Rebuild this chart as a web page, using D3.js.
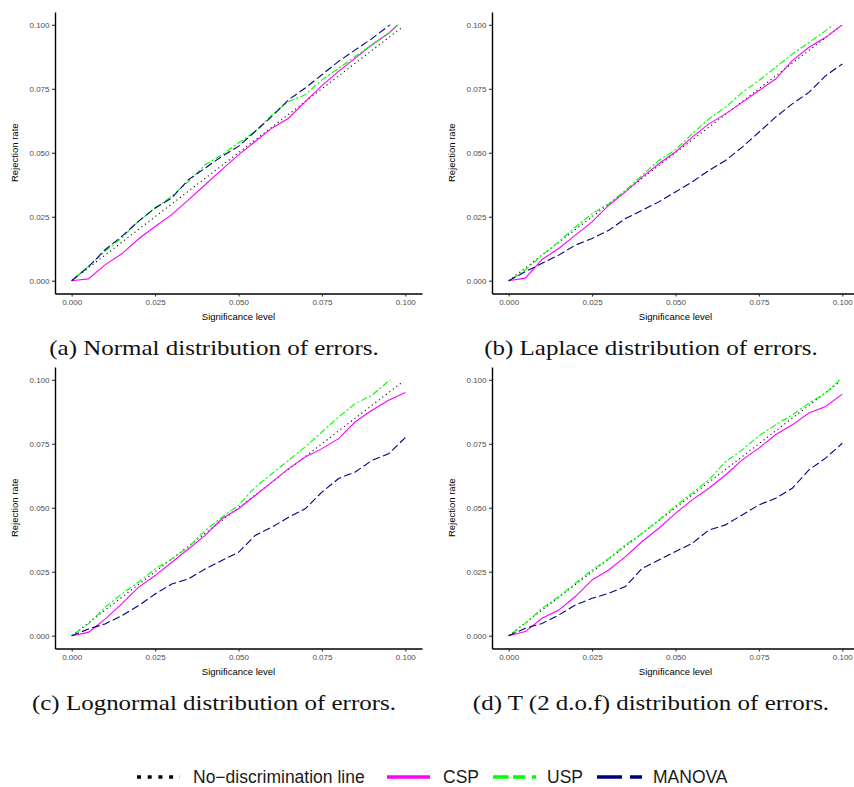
<!DOCTYPE html>
<html>
<head>
<meta charset="utf-8">
<script src="https://cdn.jsdelivr.net/npm/d3@7"></script>
<style>
  body { margin: 0; background: #fff; }
</style>
</head>
<body>
<svg id="viz"></svg>
<script>
var width = 854;
var height = 787;

// significance levels where the rejection rates were read
var sigLevels = [0, 0.005, 0.01, 0.015, 0.02, 0.025, 0.03, 0.035, 0.04, 0.045, 0.05,
                 0.055, 0.06, 0.065, 0.07, 0.075, 0.08, 0.085, 0.09, 0.095, 0.1];
var noDiscLevels = [0, 0.099];
var tickValues = [0, 0.025, 0.05, 0.075, 0.1];

// (a) normal errors
var normalCSP = [0, 0.0007, 0.0062, 0.0105, 0.0163, 0.0212, 0.0258, 0.0316, 0.0375, 0.0434, 0.0492,
                 0.0544, 0.0596, 0.0635, 0.0700, 0.0762, 0.0818, 0.0870, 0.0922, 0.0967, 0.1026];
var normalUSP = [0, 0.0056, 0.0115, 0.0167, 0.0232, 0.0284, 0.0330, 0.0388, 0.0453, 0.0492, 0.0538,
                 0.0583, 0.0648, 0.0700, 0.0727, 0.0785, 0.0830, 0.0876, 0.0922, 0.0967, 0.1027];
var normalMANOVA = [0, 0.0054, 0.0121, 0.0173, 0.0232, 0.0284, 0.0323, 0.0395, 0.0440, 0.0486, 0.0525,
                    0.0583, 0.0642, 0.0707, 0.0753, 0.0805, 0.0857, 0.0902, 0.0946, 0.0996, 0.1050];

// (b) laplace errors
var laplaceCSP = [0, 0.0010, 0.0083, 0.0126, 0.0178, 0.0230, 0.0295, 0.0347, 0.0405, 0.0457, 0.0503,
                  0.0561, 0.0613, 0.0652, 0.0697, 0.0743, 0.0788, 0.0860, 0.0912, 0.0951, 0.1000];
var laplaceUSP = [0, 0.0042, 0.0100, 0.0152, 0.0210, 0.0262, 0.0301, 0.0353, 0.0412, 0.0470, 0.0512,
                  0.0574, 0.0632, 0.0678, 0.0736, 0.0782, 0.0834, 0.0886, 0.0931, 0.0977, 0.1027];
var laplaceMANOVA = [0, 0.0035, 0.0068, 0.0100, 0.0139, 0.0165, 0.0197, 0.0243, 0.0275, 0.0308, 0.0347,
                     0.0386, 0.0431, 0.0470, 0.0522, 0.0580, 0.0639, 0.0691, 0.0736, 0.0801, 0.0847];

// (c) lognormal errors
var lognormalCSP = [0, 0.0013, 0.0065, 0.0124, 0.0189, 0.0235, 0.0287, 0.0339, 0.0392, 0.0457, 0.0496,
                    0.0548, 0.0600, 0.0653, 0.0698, 0.0731, 0.0770, 0.0836, 0.0881, 0.0920, 0.0950];
var lognormalUSP = [0, 0.0046, 0.0111, 0.0163, 0.0209, 0.0261, 0.0300, 0.0346, 0.0411, 0.0463, 0.0509,
                    0.0581, 0.0633, 0.0685, 0.0738, 0.0796, 0.0855, 0.0907, 0.0940, 0.0995, 0.1040];
var lognormalMANOVA = [0, 0.0026, 0.0046, 0.0078, 0.0117, 0.0163, 0.0202, 0.0222, 0.0261, 0.0294, 0.0326,
                       0.0392, 0.0424, 0.0463, 0.0496, 0.0561, 0.0614, 0.0640, 0.0685, 0.0711, 0.0774];

// (d) t (2 d.o.f) errors
var tdistCSP = [0, 0.0016, 0.0068, 0.0100, 0.0153, 0.0218, 0.0257, 0.0309, 0.0368, 0.0420, 0.0478,
                0.0531, 0.0576, 0.0628, 0.0687, 0.0733, 0.0785, 0.0824, 0.0870, 0.0896, 0.0944];
var tdistUSP = [0, 0.0048, 0.0107, 0.0153, 0.0205, 0.0257, 0.0302, 0.0355, 0.0400, 0.0452, 0.0507,
                0.0557, 0.0609, 0.0680, 0.0726, 0.0781, 0.0824, 0.0863, 0.0909, 0.0948, 0.1010];
var tdistMANOVA = [0, 0.0029, 0.0048, 0.0081, 0.0120, 0.0146, 0.0166, 0.0192, 0.0263, 0.0296, 0.0329,
                   0.0361, 0.0413, 0.0433, 0.0472, 0.0511, 0.0537, 0.0576, 0.0648, 0.0694, 0.0752];

var captions = ["(a) Normal distribution of errors.", "(b) Laplace distribution of errors.",
                "(c) Lognormal distribution of errors.", "(d) T (2 d.o.f) distribution of errors."];
var seriesNames = ["No\u2212discrimination line", "CSP", "USP", "MANOVA"];

var panelData = [
    [normalCSP, normalUSP, normalMANOVA],
    [laplaceCSP, laplaceUSP, laplaceMANOVA],
    [lognormalCSP, lognormalUSP, lognormalMANOVA],
    [tdistCSP, tdistUSP, tdistMANOVA]
];

// layout
var panelLeft = [55, 492, 55, 492];
var panelTop = [12, 12, 367, 367];
var panelW = 367, panelH = 281.5;
var sansFont = "'Liberation Sans', Arial, Helvetica, sans-serif";
var serifFont = "'Liberation Serif', 'Times New Roman', serif";
// the captions were set in a wider (Computer Modern) face
var captionStretch = 1.135;

// line styles (CSP, USP, MANOVA)
var colors = ["#FF00FF", "#00FF00", "#000080"];
var dashes = [null, "2.2 2.2 6.6 2.2", "7.7 3.3"];

var svg = d3.select("#viz").attr("width", width).attr("height", height);

panelData.forEach(function (series, p) {
    var L = panelLeft[p], T = panelTop[p];
    var x = d3.scaleLinear().domain([-0.005, 0.105]).range([L, L + panelW]);
    var y = d3.scaleLinear().domain([-0.005, 0.105]).range([T + panelH, T]);
    var g = svg.append("g");

    // values above 0.1 are dropped, as with ylim() in the original
    g.append("clipPath").attr("id", "clip" + p)
        .append("rect")
        .attr("x", x(-0.005))
        .attr("y", y(0.1))
        .attr("width", panelW)
        .attr("height", y(-0.005) - y(0.1));

    var lines = g.append("g").attr("clip-path", "url(#clip" + p + ")")
        .attr("fill", "none");

    lines.append("path")
        .datum(noDiscLevels)
        .attr("d", d3.line().x(function (d) { return x(d); }).y(function (d) { return y(d); }))
        .attr("stroke", "#000")
        .attr("stroke-width", 1.1)
        .attr("stroke-dasharray", "1.1 3.3");

    var line = d3.line()
        .x(function (d, i) { return x(sigLevels[i]); })
        .y(function (d) { return y(d); });

    series.forEach(function (vals, s) {
        lines.append("path")
            .datum(vals)
            .attr("d", line)
            .attr("stroke", colors[s])
            .attr("stroke-width", 1.1)
            .attr("stroke-dasharray", dashes[s]);
    });

    var fmt = d3.format(".3f");
    var xAxis = g.append("g")
        .attr("transform", "translate(0," + (T + panelH) + ")")
        .call(d3.axisBottom(x).tickValues(tickValues).tickFormat(fmt)
            .tickSizeInner(3).tickSizeOuter(0).tickPadding(2.5));
    var yAxis = g.append("g")
        .attr("transform", "translate(" + L + ",0)")
        .call(d3.axisLeft(y).tickValues(tickValues).tickFormat(fmt)
            .tickSizeInner(3).tickSizeOuter(0).tickPadding(2.5));

    [xAxis, yAxis].forEach(function (ax) {
        ax.attr("font-family", sansFont).attr("font-size", 8);
        ax.select(".domain").attr("stroke", "#000").attr("stroke-width", 1.4);
        ax.selectAll(".tick line").attr("stroke", "#333").attr("stroke-width", 1.1);
        ax.selectAll(".tick text").attr("fill", "#4D4D4D");
    });

    g.append("text")
        .attr("x", L + panelW / 2)
        .attr("y", T + panelH + 26)
        .attr("text-anchor", "middle")
        .attr("font-family", sansFont)
        .attr("font-size", 9.5)
        .text("Significance level");

    g.append("text")
        .attr("transform", "translate(" + (L - 37) + "," + (T + panelH / 2) + ") rotate(-90)")
        .attr("text-anchor", "middle")
        .attr("font-family", sansFont)
        .attr("font-size", 9.5)
        .text("Rejection rate");

    var cap = g.append("text")
        .attr("x", L + 159)
        .attr("y", T + panelH + 61.5)
        .attr("text-anchor", "middle")
        .attr("font-family", serifFont)
        .attr("font-size", 22)
        .attr("fill", "#111")
        .text(captions[p]);
    cap.attr("textLength", cap.node().getComputedTextLength() * captionStretch)
        .attr("lengthAdjust", "spacingAndGlyphs");
});

// legend
var legendY = 777;
var keyX = [137, 387, 493, 597];
var keyW = [43, 43, 43, 45];
var labelX = [193, 443, 547, 653];
var keyColors = ["#000", "#FF00FF", "#00FF00", "#000080"];
var keyDashes = ["4 6.7", null, "15.7 4.3 12.3 6.7 4.3 10", "25 8"];

var legend = svg.append("g");
seriesNames.forEach(function (name, i) {
    legend.append("line")
        .attr("x1", keyX[i]).attr("x2", keyX[i] + keyW[i])
        .attr("y1", legendY).attr("y2", legendY)
        .attr("stroke", keyColors[i])
        .attr("stroke-width", 3.6)
        .attr("stroke-dasharray", keyDashes[i]);
    legend.append("text")
        .attr("x", labelX[i])
        .attr("y", legendY + 6)
        .attr("font-family", sansFont)
        .attr("font-size", 17.5)
        .attr("fill", "#1a1a1a")
        .text(name);
});
</script>
</body>
</html>
